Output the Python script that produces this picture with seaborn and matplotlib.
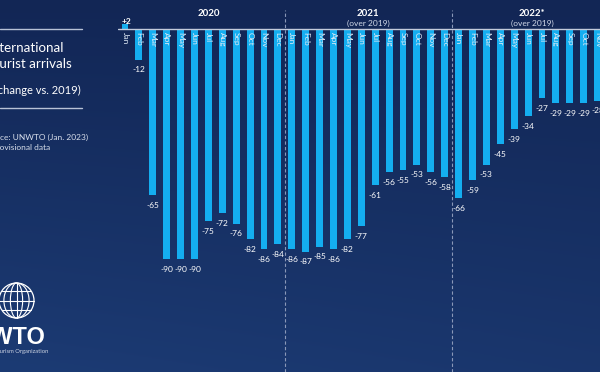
import numpy as np
import pandas as pd
import matplotlib
matplotlib.use("Agg")
import matplotlib.pyplot as plt
import seaborn as sns
from matplotlib.patches import Circle, Ellipse
from matplotlib.lines import Line2D

# ---- data ----
months = ["Jan", "Feb", "Mar", "Apr", "May", "Jun",
          "Jul", "Aug", "Sep", "Oct", "Nov", "Dec"]
years = ["2020", "2021", "2022*"]
vals_2020 = [2, -12, -65, -90, -90, -90, -75, -72, -76, -82, -86, -84]
vals_2021 = [-86, -87, -85, -86, -82, -77, -61, -56, -55, -53, -56, -58]
vals_2022 = [-66, -59, -53, -45, -39, -34, -27, -29, -29, -29, -28, -28]
year_subtitles = ["", "(over 2019)", "(over 2019)"]

values = vals_2020 + vals_2021 + vals_2022
labels = [f"{y}-{m}" for y in years for m in months]
month_labels = months * 3
df = pd.DataFrame({"period": labels, "value": values})

W, H = 600, 372
sns.set_theme(style="white")
plt.rcParams["font.family"] = ["Lato", "DejaVu Sans"]

fig = plt.figure(figsize=(W / 100, H / 100), dpi=100)

# background gradient
bg = fig.add_axes([0, 0, 1, 1], zorder=0)
yy, xx = np.mgrid[0:1:200j, 0:1:300j]
top = np.array([0x12, 0x26, 0x55]) / 255
bot = np.array([0x1c, 0x3b, 0x74]) / 255
t = np.clip(0.75 * yy + 0.25 * (1 - xx) * yy, 0, 1)[..., None]
img = top * (1 - t) + bot * t
bg.imshow(img, aspect="auto", extent=[0, 1, 0, 1], origin="upper")
bg.set_axis_off()

# main axes: baseline at y=29px, 2.56 px per unit, bar spacing 13.9 px
px_unit = 2.56
step = 13.9
x0 = 125 - 0.5 * step
ax = fig.add_axes([x0 / W, 0, 36 * step / W, 1], zorder=2)
ax.patch.set_alpha(0)
sns.barplot(data=df, x="period", y="value", order=labels, color="#14aef0",
            saturation=1, width=0.5, linewidth=0, edgecolor="none", ax=ax)
ax.set_xlim(-0.5, 35.5)
ymax = 29 / px_unit
ymin = -(H - 29) / px_unit
ax.set_ylim(ymin, ymax)
for s in ax.spines.values():
    s.set_visible(False)
ax.set_xticks([])
ax.set_yticks([])
ax.set_xlabel("")
ax.set_ylabel("")

ax.axhline(0, color="#c3cbdb", lw=1, zorder=3)

def py(p):
    """pixel-from-top to data y"""
    return ymax - p / px_unit

for i, (v, m) in enumerate(zip(values, month_labels)):
    ax.text(i, -1.2, m, rotation=-90, ha="center", va="top", fontsize=6,
            color="#dfeaf6", zorder=4)
    if v > 0:
        ax.text(i + 0.1, py(21), f"+{v}", ha="center", va="center",
                fontsize=6, color="white", fontweight="bold", zorder=4)
    else:
        ax.text(i, v - 4.0, f"{v}", ha="center", va="center", fontsize=6,
                color="white", zorder=4)

# year headers
year_x = [6.0, 17.5, 29.3]
for yx, yl, sub in zip(year_x, years, year_subtitles):
    ax.text(yx, py(13), yl, ha="center", va="center", fontsize=7,
            fontweight="bold", color="white")
    if sub:
        ax.text(yx, py(23.5), sub, ha="center", va="center", fontsize=6,
                color="#d0d8e8")

ax.vlines([11.5, 23.5], ymin, py(10), colors="#8a98b8", lw=0.8,
          linestyles=(0, (3, 2)), zorder=1)

# left panel (cropped text)
def fx(p):
    return p / W

def fy(p):
    return 1 - p / H

fig.add_artist(Line2D([0, fx(82)], [fy(29), fy(29)], color="#b8c2d6", lw=1))
fig.add_artist(Line2D([0, fx(82)], [fy(108), fy(108)], color="#b8c2d6", lw=1))
fig.text(fx(64), fy(48), "International", ha="right", va="center",
         fontsize=9.6, color="white")
fig.text(fx(72), fy(64), "tourist arrivals", ha="right", va="center",
         fontsize=9.6, color="white")
fig.text(fx(81), fy(90), "(% change vs. 2019)", ha="right", va="center",
         fontsize=8, color="white")
fig.text(fx(88), fy(137), "Source: UNWTO (Jan. 2023)", ha="right",
         va="center", fontsize=6, color="#d8dfeb")
fig.text(fx(50), fy(147), "*Provisional data", ha="right", va="center",
         fontsize=6, color="#d8dfeb")

# logo
lg = fig.add_axes([0, 0, 1, 1], zorder=3)
lg.set_xlim(0, W)
lg.set_ylim(H, 0)
lg.set_axis_off()
lg.patch.set_alpha(0)
cx, cy, r = 16.5, 300.5, 17.5
lc = "white"
lg.add_patch(Circle((cx, cy), r, fill=False, ec=lc, lw=0.9))
for wfrac in (0.35, 0.72):
    lg.add_patch(Ellipse((cx, cy), 2 * r * wfrac, 2 * r, fill=False, ec=lc,
                         lw=0.8))
lg.plot([cx, cx], [cy - r, cy + r], color=lc, lw=0.8)
for f in (-0.55, 0.0, 0.55):
    half = r * np.sqrt(1 - f * f)
    lg.plot([cx - half, cx + half], [cy + f * r, cy + f * r], color=lc, lw=0.8)
fig.text(fx(46), fy(338), "UNWTO", ha="right", va="center", fontsize=17,
         fontweight="bold", color="white",
         family=["Liberation Sans Narrow", "Liberation Sans", "DejaVu Sans"])
fig.text(fx(48), fy(351.5), "World Tourism Organization", ha="right",
         va="center", fontsize=4.2, color="#c8d0e0")

fig.savefig("out.png", dpi=100)
